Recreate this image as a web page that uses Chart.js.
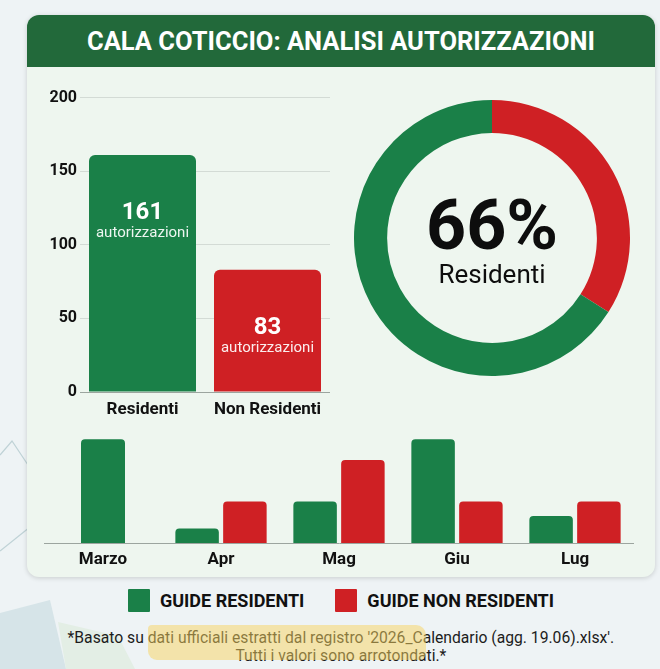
<!DOCTYPE html>
<html lang="it">
<head>
<meta charset="utf-8">
<title>Cala Coticcio</title>
<script src="https://cdn.jsdelivr.net/npm/chart.js@4.4.1/dist/chart.umd.min.js"></script>
<style>
  html, body { margin: 0; padding: 0; }
  body {
    width: 660px; height: 669px; position: relative; overflow: hidden;
    background: #eef3f5; font-family: Roboto, sans-serif;
  }
  .deco { position: absolute; left: 0; top: 0; }
  .card {
    position: absolute; left: 27px; top: 15px; width: 628px; height: 562px;
    background: #eef6ef; border-radius: 12px; overflow: hidden;
    box-shadow: 0 1px 5px rgba(0, 0, 0, 0.16);
  }
  .header {
    height: 52px; line-height: 52px; background: #22693a; color: #fff;
    font-weight: 700; font-size: 25.5px; text-align: center;
  }
  .box { position: absolute; }
  .legenda {
    position: absolute; left: 27px; top: 589px; width: 628px;
    display: flex; justify-content: center; gap: 31px;
  }
  .voce { display: flex; align-items: center; font-weight: 700; font-size: 18px; color: #111; }
  .voce span { display: inline-block; width: 22px; height: 23px; margin-right: 10px; border-radius: 1px; }
  .nota {
    position: absolute; left: 27px; top: 629px; width: 628px;
    text-align: center; font-size: 16px; line-height: 18px; color: #1c1c1c;
  }
  .nota div { display: inline-block; transform: scaleX(0.98); white-space: nowrap; }
  .evidenziatore {
    position: absolute; left: 148px; top: 625px; width: 278px; height: 35px;
    background: rgba(247, 212, 95, 0.5); border-radius: 4px 10px 7px 9px;
  }
</style>
</head>
<body>
<svg class="deco" width="660" height="669">
  <polyline points="0,455 12,441 30,468" fill="none" stroke="#bfd2d6" stroke-width="1.2"/>
  <polyline points="0,551 30,527" fill="none" stroke="#bfd2d6" stroke-width="1.2"/>
  <polygon points="0,613 50,600 66,669 0,669" fill="#d6e4e8"/>
  <polygon points="58,622 118,636 135,669 66,669" fill="#e3eee5"/>
</svg>

<div class="card">
  <div class="header">CALA COTICCIO: ANALISI AUTORIZZAZIONI</div>
</div>

<div class="box" style="left:40px; top:85px; width:290px; height:337px;"><canvas id="barre"></canvas></div>
<div class="box" style="left:354px; top:100px; width:276px; height:276px;"><canvas id="ciambella"></canvas></div>
<div class="box" style="left:44px; top:435px; width:590px; height:138px;"><canvas id="mesi"></canvas></div>

<div class="legenda" id="legenda"></div>
<div class="nota"><div>*Basato su dati ufficiali estratti dal registro '2026_Calendario (agg. 19.06).xlsx'.<br>Tutti i valori sono arrotondati.*</div></div>
<div class="evidenziatore"></div>

<script>
// dati
const categorie = ['Residenti', 'Non Residenti'];
const autorizzazioni = [161, 83];
const tickY = [0, 50, 100, 150, 200];
const mesi = ['Marzo', 'Apr', 'Mag', 'Giu', 'Lug'];
const guideResidenti = [50, 7, 20, 50, 13];
const guideNonResidenti = [null, 20, 40, 20, 20];
const etichetteLegenda = ['GUIDE RESIDENTI', 'GUIDE NON RESIDENTI'];

const VERDE = '#1a8048';
const ROSSO = '#cf2024';

Chart.defaults.font.family = 'Roboto';
Chart.defaults.color = '#111';

// numeri dentro le barre
const etichetteBarre = {
    id: 'etichetteBarre',
    afterDatasetsDraw(chart) {
        const ctx = chart.ctx;
        chart.getDatasetMeta(0).data.forEach((bar, i) => {
            const y = bar.y + 65;
            ctx.save();
            ctx.textAlign = 'center';
            ctx.fillStyle = '#fff';
            ctx.font = 'bold 24px Roboto';
            ctx.fillText(autorizzazioni[i], bar.x, y - 1);
            ctx.fillStyle = 'rgba(255,255,255,0.92)';
            ctx.font = '15px Roboto';
            ctx.fillText('autorizzazioni', bar.x, y + 17);
            ctx.restore();
        });
    }
};

// percentuale al centro della ciambella
const testoCentro = {
    id: 'testoCentro',
    afterDraw(chart) {
        const arc = chart.getDatasetMeta(0).data[0];
        const tot = autorizzazioni.reduce((a, b) => a + b, 0);
        const perc = Math.round(autorizzazioni[0] / tot * 100);
        const ctx = chart.ctx;
        ctx.save();
        ctx.textAlign = 'center';
        ctx.fillStyle = '#0d0d0d';
        ctx.font = 'bold 70px Roboto';
        ctx.fillText(perc + '%', arc.x, arc.y + 11);
        ctx.font = '26px Roboto';
        ctx.fillText(categorie[0], arc.x, arc.y + 45);
        ctx.restore();
    }
};

new Chart(document.getElementById('barre'), {
    type: 'bar',
    data: {
        labels: categorie,
        datasets: [{
            data: autorizzazioni,
            backgroundColor: [VERDE, ROSSO],
            borderRadius: 6,
            barPercentage: 0.856,
            categoryPercentage: 1
        }]
    },
    options: {
        responsive: true,
        maintainAspectRatio: false,
        animation: false,
        layout: { padding: { top: 5 } },
        plugins: { legend: { display: false }, tooltip: { enabled: false } },
        scales: {
            x: {
                grid: { display: false, drawTicks: false },
                border: { color: '#9ca59f' },
                ticks: { font: { size: 17, weight: 'bold' }, color: '#111', padding: 8 },
                afterFit: s => { s.height = 30; }
            },
            y: {
                min: 0, max: 200,
                grid: { color: '#d3dbd5', drawTicks: false },
                border: { display: false },
                ticks: { font: { size: 16, weight: 'bold' }, color: '#111', padding: 3 },
                afterBuildTicks: s => { s.ticks = tickY.map(v => ({ value: v })); },
                afterFit: s => { s.width = 40; }
            }
        }
    },
    plugins: [etichetteBarre]
});

new Chart(document.getElementById('ciambella'), {
    type: 'doughnut',
    data: {
        labels: [categorie[1], categorie[0]],
        datasets: [{
            data: [autorizzazioni[1], autorizzazioni[0]],
            backgroundColor: [ROSSO, VERDE],
            borderWidth: 0
        }]
    },
    options: {
        responsive: true,
        maintainAspectRatio: false,
        animation: false,
        cutout: '76%',
        plugins: { legend: { display: false }, tooltip: { enabled: false } }
    },
    plugins: [testoCentro]
});

const graficoMesi = new Chart(document.getElementById('mesi'), {
    type: 'bar',
    data: {
        labels: mesi,
        datasets: [
            { label: etichetteLegenda[0], data: guideResidenti, backgroundColor: VERDE },
            { label: etichetteLegenda[1], data: guideNonResidenti, backgroundColor: ROSSO }
        ]
    },
    options: {
        responsive: true,
        maintainAspectRatio: false,
        animation: false,
        skipNull: true,
        datasets: { bar: { barPercentage: 0.91, categoryPercentage: 0.81, borderRadius: 4, maxBarThickness: 44 } },
        plugins: { legend: { display: false }, tooltip: { enabled: false } },
        scales: {
            x: {
                grid: { display: false, drawTicks: false },
                border: { color: '#9ca59f' },
                ticks: { font: { size: 17, weight: 'bold' }, color: '#111', padding: 7 },
                afterFit: s => { s.height = 30; }
            },
            y: { display: false, min: 0, max: 52 }
        }
    }
});

// legenda html sotto la scheda
const legenda = document.getElementById('legenda');
graficoMesi.data.datasets.forEach(ds => {
    const voce = document.createElement('div');
    voce.className = 'voce';
    voce.innerHTML = '<span style="background:' + ds.backgroundColor + '"></span>' + ds.label;
    legenda.appendChild(voce);
});
</script>
</body>
</html>
